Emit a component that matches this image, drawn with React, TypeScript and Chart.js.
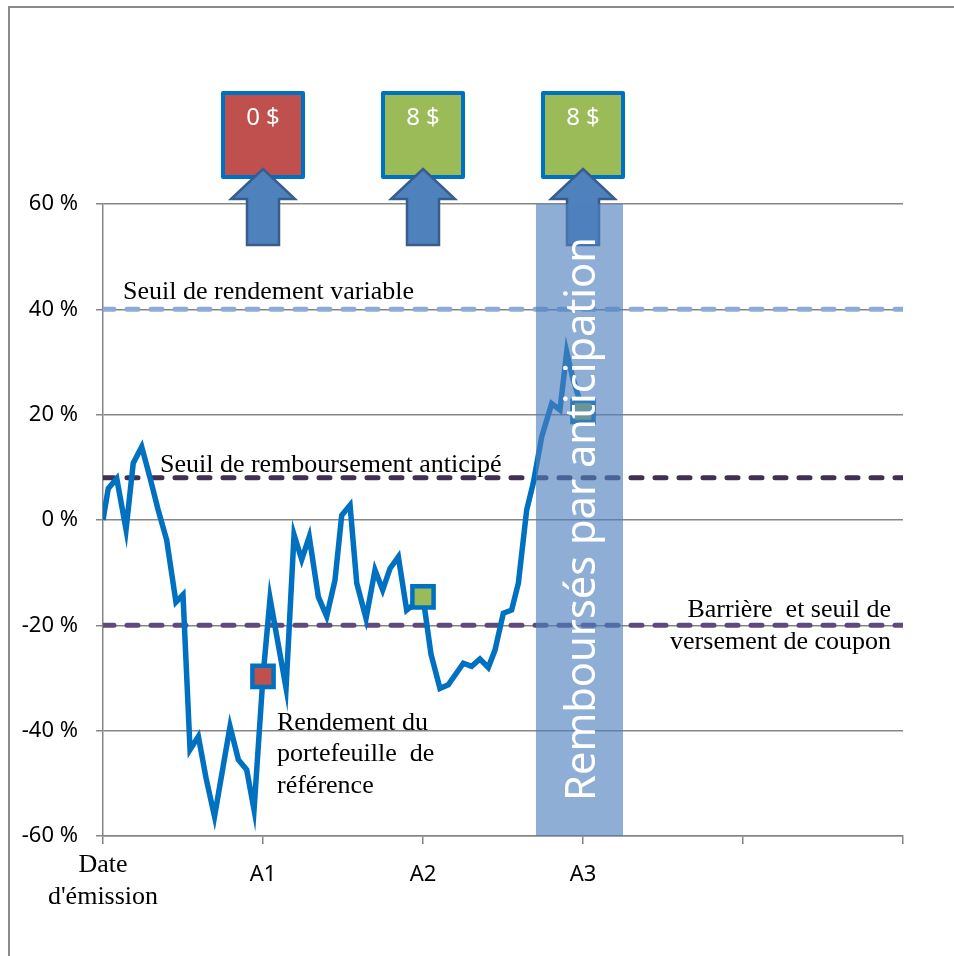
import React, { useEffect, useRef } from 'react';
import { Chart, registerables } from 'chart.js';

Chart.register(...registerables);

// ---------- data ----------
const xTickLabels: (string | string[])[] = [["Date", "d'émission"], 'A1', 'A2', 'A3', '', ''];

const timeYears = [
  0, 0.033, 0.086, 0.144, 0.189, 0.242, 0.294, 0.344, 0.398, 0.456, 0.5, 0.544, 0.596, 0.644, 0.697,
  0.744, 0.794, 0.846, 0.898, 0.944, 1.0, 1.044, 1.144, 1.194, 1.242, 1.289, 1.346, 1.398, 1.45,
  1.492, 1.544, 1.586, 1.644, 1.7, 1.748, 1.794, 1.846, 1.898, 2.0, 2.05, 2.106, 2.158, 2.252, 2.304,
  2.356, 2.408, 2.45, 2.502, 2.554, 2.596, 2.648, 2.689, 2.742, 2.804, 2.856, 2.898, 2.934, 3.0,
];
const portfolioReturn = [
  0, 6, 7.9, -1.8, 10.8, 13.9, 8, 2, -3.8, -15.6, -14.2, -43.6, -41.1, -49, -56.3,
  -48, -39.2, -45.5, -47.4, -55, -29.7, -14.9, -31.9, -2.8, -7.5, -3.2, -14.6, -18.3, -11.4,
  0.9, 2.8, -12, -18.7, -9.5, -13.3, -9.2, -7, -17.1, -14.6, -25.5, -32, -31.3, -27.2, -27.8,
  -26.4, -28, -24.7, -17.7, -17.1, -12, 1.9, 7, 15.8, 22.1, 20.9, 31.9, 27.2, 20.6,
];

const observationDates = [1, 2, 3];
const observationReturns = [-29.7, -14.6, 20.6];
const observationColors = ['#c0504d', '#9bbb59', '#9bbb59'];
const couponLabels = ['0 $', '8 $', '8 $'];

const thresholdValues = [40, 8, -20];
const thresholdColors = ['#8eaad8', '#403152', '#604a7b'];

const earlyRedemptionStart = 2.706;
const earlyRedemptionEnd = 3.25;
const earlyRedemptionLabel = 'Remboursés par anticipation';

// ---------- annotation texts (anchored in data units) ----------
const annotations = [
  { lines: ['Seuil de rendement variable'], x: 0.125, y: 43.3, align: 'left' },
  { lines: ['Seuil de remboursement anticipé'], x: 0.356, y: 10.4, align: 'left' },
  { lines: ['Barrière  et seuil de', 'versement de coupon'], x: 4.925, y: -17.1, align: 'right' },
  { lines: ['Rendement du', 'portefeuille  de', 'référence'], x: 1.0875, y: -38.5, align: 'left' },
];

const SERIF = '"Liberation Serif", "Times New Roman", serif';
const SANS = '"Noto Sans", "Open Sans", sans-serif';
const GRID = '#868686';

const overlayPlugin = {
  id: 'overlay',
  afterDatasetsDraw(chart: any) {
    const { ctx, chartArea } = chart;
    const xs = chart.scales.x;
    const ys = chart.scales.y;
    const lh = ys.getPixelForValue(0) - ys.getPixelForValue(6.05); // ~32px line spacing
    ctx.save();

    // text annotations
    ctx.fillStyle = '#000';
    ctx.font = '26px ' + SERIF;
    ctx.textBaseline = 'middle';
    annotations.forEach((a) => {
      ctx.textAlign = a.align;
      const px = xs.getPixelForValue(a.x);
      const py = ys.getPixelForValue(a.y);
      a.lines.forEach((l, i) => ctx.fillText(l, px, py + i * lh));
    });

    // coupon boxes and arrows
    const top = chartArea.top;
    observationDates.forEach((d, i) => {
      const cx = xs.getPixelForValue(d);
      ctx.fillStyle = observationColors[i];
      ctx.strokeStyle = '#0070c0';
      ctx.lineWidth = 4;
      ctx.lineJoin = 'round';
      ctx.beginPath();
      ctx.rect(cx - 40, top - 111, 80, 84);
      ctx.fill();
      ctx.stroke();
      ctx.fillStyle = '#ffffff';
      ctx.font = '24px ' + SANS;
      ctx.textAlign = 'center';
      ctx.textBaseline = 'middle';
      ctx.fillText(couponLabels[i], cx, top - 86);

      // arrow
      ctx.beginPath();
      ctx.moveTo(cx, top - 35);
      ctx.lineTo(cx + 32, top - 5);
      ctx.lineTo(cx + 16, top - 5);
      ctx.lineTo(cx + 16, top + 41);
      ctx.lineTo(cx - 16, top + 41);
      ctx.lineTo(cx - 16, top - 5);
      ctx.lineTo(cx - 32, top - 5);
      ctx.closePath();
      ctx.fillStyle = '#4f81bd';
      ctx.fill();
      ctx.strokeStyle = '#385d8a';
      ctx.lineWidth = 2.5;
      ctx.lineJoin = 'miter';
      ctx.stroke();
    });

    // early redemption band
    const bx0 = xs.getPixelForValue(earlyRedemptionStart);
    const bx1 = xs.getPixelForValue(earlyRedemptionEnd);
    ctx.fillStyle = 'rgba(79,129,189,0.64)';
    ctx.fillRect(bx0, chartArea.top, bx1 - bx0, chartArea.bottom - chartArea.top);

    // band label
    ctx.font = '100px ' + SANS;
    const w = ctx.measureText(earlyRedemptionLabel).width;
    const size = (100 * (chartArea.bottom - chartArea.top - 68)) / w;
    ctx.font = size.toFixed(1) + 'px ' + SANS;
    ctx.translate((bx0 + bx1) / 2 + 3.5, (chartArea.top + chartArea.bottom) / 2 - 1);
    ctx.rotate(-Math.PI / 2);
    ctx.fillStyle = '#ffffff';
    ctx.textAlign = 'center';
    ctx.textBaseline = 'middle';
    ctx.fillText(earlyRedemptionLabel, 0, 0);
    ctx.restore();
  },
};

export default function App() {
  const ref = useRef<HTMLCanvasElement>(null);

  useEffect(() => {
    if (!ref.current) return;
    const dashed = thresholdValues.map((v, i) => ({
      type: 'line' as const,
      data: [
        { x: 0, y: v },
        { x: 5, y: v },
      ],
      borderColor: thresholdColors[i],
      borderWidth: 5,
      borderDash: [11, 13],
      borderCapStyle: 'round' as const,
      pointRadius: 0,
      fill: false,
    }));

    const chart = new Chart(ref.current, {
      type: 'line',
      data: {
        datasets: [
          {
            data: observationDates.map((d, i) => ({ x: d, y: observationReturns[i] })),
            showLine: false,
            pointStyle: 'rect',
            pointRadius: 15,
            pointBackgroundColor: observationColors,
            pointBorderColor: '#0070c0',
            pointBorderWidth: 4.5,
          },
          {
            data: timeYears.map((t, i) => ({ x: t, y: portfolioReturn[i] })),
            borderColor: '#0070c0',
            borderWidth: 5.5,
            pointRadius: 0,
            tension: 0,
            fill: false,
          },
          ...dashed,
        ] as any,
      },
      options: {
        animation: false,
        responsive: true,
        maintainAspectRatio: false,
        layout: { padding: { top: 204, right: 51, left: 0, bottom: 0 } },
        plugins: {
          legend: { display: false },
          tooltip: { enabled: false },
        },
        scales: {
          x: {
            type: 'linear',
            min: 0,
            max: 5,
            afterFit: (s: any) => {
              s.height = 120;
            },
            border: { display: true, color: GRID, width: 1.5 },
            grid: { display: true, drawOnChartArea: false, drawTicks: true, tickLength: 8, color: GRID, lineWidth: 1.5 },
            ticks: {
              stepSize: 1,
              autoSkip: false,
              maxRotation: 0,
              padding: 5,
              color: '#000',
              callback: (v: any) => xTickLabels[Math.round(Number(v))] ?? '',
              font: (c: any) =>
                c.index === 0
                  ? { family: SERIF, size: 26, lineHeight: '32px' }
                  : { family: SANS, size: 22, lineHeight: '52px' },
            } as any,
          },
          y: {
            min: -60,
            max: 60,
            afterFit: (s: any) => {
              s.width = 103;
            },
            border: { display: true, color: GRID, width: 1.5 },
            grid: { color: GRID, lineWidth: 1.5, tickLength: 7 },
            ticks: {
              stepSize: 20,
              padding: 18,
              color: '#000',
              font: { family: SANS, size: 22 },
              callback: (v: any) => `${v} %`,
            },
          },
        },
      } as any,
      plugins: [overlayPlugin],
    });
    return () => chart.destroy();
  }, []);

  return (
    <div style={{ position: 'absolute', left: 0, top: 0, width: 954, height: 956, overflow: 'hidden', background: '#fff' }}>
      <div
        style={{
          position: 'absolute',
          left: 8,
          top: 6,
          width: 1000,
          height: 1000,
          borderLeft: '2px solid #8a8a8a',
          borderTop: '2px solid #8a8a8a',
        }}
      />
      <canvas ref={ref} width={954} height={956} style={{ position: 'absolute', left: 0, top: 0 }} />
    </div>
  );
}
